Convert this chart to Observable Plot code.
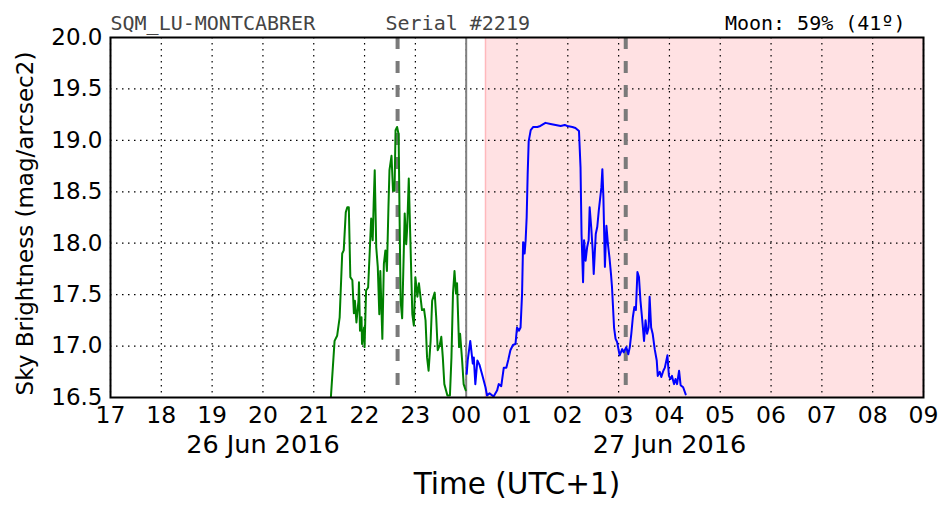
<!DOCTYPE html>
<html><head><meta charset="utf-8">
<script src="https://cdn.jsdelivr.net/npm/d3@7"></script>
<script src="https://cdn.jsdelivr.net/npm/@observablehq/plot@0.6"></script>
<style>
body{margin:0;background:#fff}
svg{font-family:"DejaVu Sans",sans-serif}
</style>
</head><body><div id="chart"></div>
<script>
// Hours counted from 00:00 of 26 Jun 2016 (UTC+1)
const hourTicks = d3.range(17, 34);
const yTicks = [16.5, 17.0, 17.5, 18.0, 18.5, 19.0, 19.5, 20.0];
const dateLabels = ["26 Jun 2016", "27 Jun 2016"];
const dateLabelHours = [20, 28];

const eveningTime = [21.33,21.41,21.46,21.51,21.56,21.59,21.63,21.66,21.69,21.72,21.76,21.79,21.81,21.84,21.88,21.89,21.91,21.94,21.95,21.99,22.00,22.03,22.07,22.10,22.13,22.16,22.18,22.20,22.23,22.26,22.29,22.31,22.35,22.38,22.41,22.44,22.47,22.49,22.53,22.56,22.59,22.61,22.64,22.67,22.69,22.71,22.74,22.79,22.82,22.84,22.87,22.90,22.94,22.97,23.00,23.04,23.07,23.10,23.13,23.17,23.20,23.23,23.26,23.30,23.33,23.38,23.41,23.44,23.48,23.51,23.54,23.57,23.63,23.68,23.71,23.74,23.77,23.80,23.82,23.86,23.88,23.92,23.95,23.99];
const eveningValue = [16.45,17.05,17.10,17.28,17.90,17.93,18.30,18.35,18.35,17.67,17.64,17.32,17.44,17.23,17.44,17.62,17.15,17.28,17.02,17.18,16.99,17.54,17.57,17.90,18.24,18.03,18.40,18.71,17.96,17.77,17.31,17.73,17.07,17.80,17.93,17.73,18.35,18.71,18.85,18.51,18.51,19.10,19.13,19.06,18.22,17.44,17.27,18.29,17.99,18.16,18.63,18.06,17.31,17.20,17.67,17.48,17.61,17.48,17.35,17.36,17.25,16.89,16.76,17.05,17.44,17.52,17.28,16.96,17.01,17.09,16.89,16.63,16.52,16.52,16.89,17.51,17.73,17.51,17.61,16.99,17.12,16.86,16.63,16.57];

const morningTime = [24.01,24.03,24.08,24.13,24.15,24.18,24.22,24.26,24.31,24.38,24.41,24.46,24.54,24.61,24.64,24.69,24.74,24.79,24.83,24.87,24.92,24.97,25.00,25.04,25.07,25.10,25.12,25.15,25.17,25.19,25.21,25.23,25.27,25.32,25.40,25.46,25.56,25.66,25.76,25.86,25.94,25.99,26.09,26.15,26.22,26.25,26.27,26.30,26.32,26.35,26.38,26.41,26.43,26.46,26.49,26.51,26.55,26.58,26.61,26.66,26.68,26.70,26.73,26.76,26.79,26.82,26.85,26.87,26.91,26.94,26.97,27.02,27.07,27.10,27.15,27.19,27.22,27.25,27.28,27.31,27.34,27.37,27.40,27.43,27.46,27.50,27.53,27.56,27.59,27.61,27.64,27.67,27.71,27.75,27.77,27.81,27.84,27.88,27.91,27.96,27.99,28.02,28.05,28.09,28.12,28.15,28.19,28.22,28.27,28.32];
const morningValue = [16.73,16.86,17.05,16.83,16.89,16.63,16.86,16.82,16.73,16.60,16.52,16.54,16.51,16.57,16.63,16.61,16.79,16.79,16.87,16.96,17.01,17.02,17.18,17.15,17.18,17.51,18.01,17.90,18.03,18.25,18.67,18.99,19.10,19.13,19.13,19.14,19.17,19.16,19.15,19.14,19.15,19.14,19.13,19.12,19.09,18.74,18.09,17.62,18.03,17.83,17.96,18.03,18.35,18.16,17.93,17.70,18.09,18.16,18.32,18.54,18.72,18.45,17.77,18.17,17.99,17.86,17.70,17.57,17.18,17.07,17.04,16.91,16.97,16.94,16.99,16.92,16.99,17.12,17.28,17.38,17.35,17.72,17.67,17.44,17.28,17.05,17.25,17.12,17.18,17.48,17.18,17.12,16.97,16.86,16.71,16.75,16.70,16.76,16.79,16.91,16.71,16.68,16.71,16.63,16.68,16.63,16.76,16.62,16.60,16.53];

const eventHours = [22.65, 27.14];
const midnightHour = [24];
const shadeStart = [24.38];
const shadeEnd = [33];

const stationLabel = "SQM_LU-MONTCABRER";
const serialLabel = "Serial #2219";
const moonLabel = "Moon: 59% (41º)";
const yLabel = "Sky Brightness (mag/arcsec2)";
const xLabel = "Time (UTC+1)";

const evening = eveningTime.map((t, i) => ({t, v: eveningValue[i]}));
const morning = morningTime.map((t, i) => ({t, v: morningValue[i]}));
const shade = shadeStart.map((s, i) => ({x1: s, x2: shadeEnd[i]}));
const dates = dateLabels.map((d, i) => ({x: dateLabelHours[i], text: d}));

const chart = Plot.plot({
  width: 952,
  height: 512,
  marginLeft: 110,
  marginRight: 29,
  marginTop: 37,
  marginBottom: 115,
  style: {fontFamily: "DejaVu Sans", background: "#fff"},
  x: {domain: [17, 33]},
  y: {domain: [16.5, 20.0]},
  marks: [
    Plot.rect(shade, {x1: "x1", x2: "x2", fill: "#ffe1e3"}),
    Plot.ruleX(shadeStart, {stroke: "#ffb8bc", strokeWidth: 1.5}),
    Plot.gridX(hourTicks, {stroke: "#000", strokeOpacity: 1, strokeWidth: 1.2, strokeDasharray: "1.5,4.5"}),
    Plot.gridY(yTicks, {stroke: "#000", strokeOpacity: 1, strokeWidth: 1.2, strokeDasharray: "1.5,4.5"}),
    Plot.ruleX(midnightHour, {stroke: "#808080", strokeWidth: 2}),
    Plot.ruleX(eventHours, {stroke: "#7a7a7a", strokeWidth: 4, strokeDasharray: "12,12"}),
    Plot.line(evening, {x: "t", y: "v", stroke: "#008000", strokeWidth: 2, clip: true}),
    Plot.line(morning, {x: "t", y: "v", stroke: "#0000ff", strokeWidth: 2, clip: true}),
    Plot.frame({stroke: "#000", strokeWidth: 2}),
    Plot.axisX(hourTicks, {tickFormat: d => String(d % 24).padStart(2, "0"), tickSize: 0, tickPadding: 9, fontSize: 23.5, label: null, color: "#000"}),
    Plot.axisY(yTicks, {tickFormat: d3.format(".1f"), tickSize: 0, tickPadding: 8, fontSize: 23, label: null, color: "#000"}),
    Plot.text(dates, {x: "x", text: "text", frameAnchor: "bottom", dy: 55, fontSize: 25.5, fill: "#000"}),
    Plot.text([xLabel], {frameAnchor: "bottom", dy: 96, fontSize: 29.5, fill: "#000"}),
    Plot.text([yLabel], {frameAnchor: "left", textAnchor: "middle", lineAnchor: "middle", rotate: -90, dx: -85, dy: 6, fontSize: 23, fill: "#000"}),
    Plot.text([stationLabel], {frameAnchor: "top-left", textAnchor: "start", dy: -22, fontFamily: "DejaVu Sans Mono", fontSize: 20, fill: "#444"}),
    Plot.text([serialLabel], {frameAnchor: "top-left", textAnchor: "start", dx: 275, dy: -22, fontFamily: "DejaVu Sans Mono", fontSize: 20, fill: "#444"}),
    Plot.text([moonLabel], {frameAnchor: "top-right", textAnchor: "end", dx: -18, dy: -22, fontFamily: "DejaVu Sans Mono", fontSize: 20, fill: "#000"})
  ]
});
document.getElementById("chart").appendChild(chart);
</script>
</body></html>
